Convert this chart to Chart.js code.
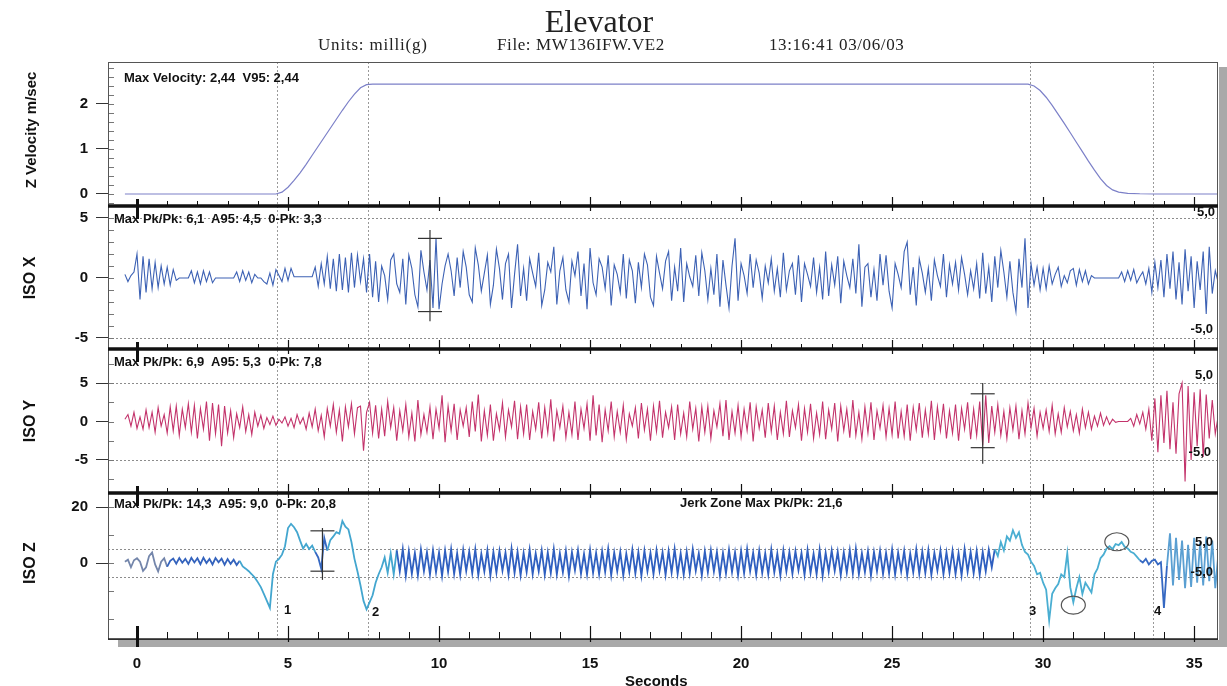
<!DOCTYPE html>
<html>
<head>
<meta charset="utf-8">
<title>Elevator</title>
<script src="https://cdn.jsdelivr.net/npm/chart.js@4.4.1/dist/chart.umd.min.js"></script>
<style>
  body { margin: 0; background: #fff; }
  #wrap { position: relative; width: 1227px; height: 686px; overflow: hidden; background: #fff; font-family: "Liberation Sans", Arial, sans-serif; }
  #plot { position: absolute; left: 0; top: 0; }
  .t { position: absolute; white-space: pre; color: #111; line-height: 1; }
  .serif { font-family: "Liberation Serif", "DejaVu Serif", serif; color: #222; }
  .note { font-weight: bold; font-size: 13px; }
  .ytitle { font-weight: bold; transform: translate(-50%, -50%) rotate(-90deg); }
</style>
</head>
<body>
<div id="wrap">
  <canvas id="plot" width="1227" height="686"></canvas>

  <div class="t serif" style="left:0;width:1198px;text-align:center;top:5px;font-size:32px;">Elevator</div>
  <div class="t serif" style="left:318px;top:36px;font-size:17px;letter-spacing:0.8px;">Units: milli(g)</div>
  <div class="t serif" style="left:497px;top:36px;font-size:17px;letter-spacing:0.6px;">File: MW136IFW.VE2</div>
  <div class="t serif" style="left:769px;top:36px;font-size:17px;letter-spacing:0.6px;">13:16:41 03/06/03</div>

  <div class="t ytitle" style="left:30px;top:130px;font-size:15px;">Z Velocity m/sec</div>
  <div class="t ytitle" style="left:30px;top:278px;font-size:16px;">ISO X</div>
  <div class="t ytitle" style="left:30px;top:421px;font-size:16px;">ISO Y</div>
  <div class="t ytitle" style="left:30px;top:563px;font-size:16px;">ISO Z</div>

  <div class="t note" style="left:124px;top:71px;">Max Velocity: 2,44  V95: 2,44</div>
  <div class="t note" style="left:114px;top:212px;">Max Pk/Pk: 6,1  A95: 4,5  0-Pk: 3,3</div>
  <div class="t note" style="left:114px;top:355px;">Max Pk/Pk: 6,9  A95: 5,3  0-Pk: 7,8</div>
  <div class="t note" style="left:114px;top:497px;">Max Pk/Pk: 14,3  A95: 9,0  0-Pk: 20,8</div>
  <div class="t note" style="left:680px;top:496px;">Jerk Zone Max Pk/Pk: 21,6</div>

  <div class="t note" style="right:12px;top:205px;">5,0</div>
  <div class="t note" style="right:14px;top:322px;">-5,0</div>
  <div class="t note" style="right:14px;top:368px;">5,0</div>
  <div class="t note" style="right:16px;top:445px;">-5,0</div>
  <div class="t note" style="right:14px;top:535px;">5,0</div>
  <div class="t note" style="right:14px;top:565px;">-5,0</div>

  <div class="t note" style="left:284px;top:603px;">1</div>
  <div class="t note" style="left:372px;top:605px;">2</div>
  <div class="t note" style="left:1029px;top:604px;">3</div>
  <div class="t note" style="left:1154px;top:604px;">4</div>

  <div class="t" style="left:625px;top:673px;font-size:15px;font-weight:bold;">Seconds</div>
</div>

<script>
// ---- data ----
const xTickValues = [0, 5, 10, 15, 20, 25, 30, 35];
const velTickValues = [0, 1, 2];
const isoXTickValues = [-5, 0, 5];
const isoYTickValues = [-5, 0, 5];
const isoZTickValues = [0, 20];

// velocity, m/sec
const velTimes = [-0.4, 4.6, 4.8, 5.0, 5.2, 5.4, 5.6, 5.8, 6.0, 6.2, 6.4, 6.6, 6.8, 7.0, 7.2, 7.4, 7.6, 7.8,
  29.5, 29.7, 29.9, 30.1, 30.3, 30.5, 30.7, 30.9, 31.1, 31.3, 31.5, 31.7, 31.9, 32.1, 32.3, 32.5, 32.8, 33.2, 33.7, 35.8];
const velValues = [0, 0, 0.04, 0.15, 0.3, 0.47, 0.66, 0.86, 1.06, 1.26, 1.46, 1.66, 1.86, 2.05, 2.22, 2.36, 2.43, 2.44,
  2.44, 2.4, 2.3, 2.15, 1.97, 1.77, 1.57, 1.36, 1.15, 0.94, 0.73, 0.53, 0.34, 0.19, 0.09, 0.04, 0.015, 0.005, 0, 0];

// acceleration channels, one sample per 0.1 s starting at -0.4 s
const SAMPLE_START = -0.4;
const SAMPLE_STEP = 0.1;

const isoX = [
  0.3, -0.3, 0.2, 0.5,
  2.0, -1.8, 1.8, -1.2, 1.6, -0.9, 1.3, -0.8, 1.0, -0.5,   // 0
  0.9, -0.6, 0.7, -0.2, 0, 0, 0, 0, 0.6, -0.4,              // 1
  0.5, -0.5, 0.6, -0.3, 0.5, -0.4, 0, 0, 0, 0,              // 2
  0, 0, 0, 0.5, -0.3, 0.6, -0.2, 0.5, -0.4, 0.3,            // 3
  0, 0, -0.3, -0.5, 0.4, -0.6, 0.7, 0.2, -0.3, 0.8,         // 4
  -0.2, 0.8, 0.1, 0.1, 0.1, 0.1, 0.1, 0.1, 0.1, 0.9,        // 5
  -0.7, 1.2, -0.5, 1.8, -0.9, 1.6, -1.1, 2.0, -1.0, 1.7,    // 6
  -1.2, 2.1, -0.8, 1.9, -0.3, 1.6, -1.2, 2.0, -1.6, 1.4,    // 7
  -2.0, 1.0, 0.2, -1.8, 1.5, 2.0, -0.5, -1.2, 1.6, -2.2,    // 8
  1.9, 0.8, -1.4, -2.4, 2.3, 0.5, -1.0, 1.5, -2.5, 3.3,     // 9
  -2.6, -0.5, 1.0, 2.0, 0.6, -1.5, 1.7, -0.8, 2.2, 0.9,     // 10
  -1.4, -2.0, 2.5, 1.1, -1.1, 0.4, 1.9, -2.2, -0.6, 2.4,    // 11
  0.8, -1.8, 1.2, 2.0, -2.5, 0.3, 2.8, -1.5, 0.8, -1.9,     // 12
  1.6, 0.4, -0.7, 2.1, -2.3, -1.0, 1.3, 0.5, 2.6, -2.2,     // 13
  0.6, 1.7, -1.0, -2.0, 1.4, 0.2, 2.2, -1.5, 1.2, -2.6,     // 14
  2.5, -0.4, -1.4, 1.6, 0.9, -0.9, 1.9, -2.3, 1.1, 0.3,     // 15
  -1.2, 2.0, -1.7, 1.5, 0.6, -2.1, 1.3, -0.8, 2.0, 1.1,     // 16
  -1.6, -2.3, 1.8, 0.4, -0.9, 1.4, 2.2, -1.9, 0.9, -1.1,    // 17
  2.5, -2.0, 1.2, 0.1, -0.7, 1.9, -1.5, 2.1, 0.6, -1.8,     // 18
  0.8, -1.4, 2.0, -2.4, 1.5, -0.6, -2.5, 1.0, 3.3, -1.9,    // 19
  1.2, 0.2, -1.3, 2.0, -0.8, 1.5, 0.4, -1.7, 1.0, -0.4,     // 20
  1.6, -1.1, 0.8, -1.6, 2.1, -1.0, 0.6, 1.2, -1.4, 1.9,     // 21
  -2.0, 1.2, 0.3, -0.7, 1.7, -1.2, 0.9, -1.8, 2.2, -1.5,    // 22
  1.1, -0.6, 1.8, -2.1, 1.4, 0.2, -0.8, 1.6, -1.3, 2.8,     // 23
  -2.4, 0.9, 1.2, -1.6, 0.7, -1.9, 2.0, -0.6, 1.9, -1.1,    // 24
  -2.5, 1.2, 0.3, -0.8, 2.2, 3.0, -1.4, 0.9, -2.3, 1.6,     // 25
  0.4, -1.2, 0.8, -1.9, 1.5, 0.2, -0.7, 2.0, -1.6, 1.1,     // 26
  -0.5, 1.3, -1.0, 1.7, 0.3, -1.4, 0.6, -0.9, 1.2, -1.7,    // 27
  2.1, -1.3, 0.9, -2.0, 1.8, -0.8, 2.3, 0.5, -1.6, 1.4,     // 28
  -1.2, -2.8, 1.6, -0.8, 3.3, -2.5, 1.2, -0.6, 0.9, -1.0,   // 29
  0.8, -0.9, 1.0, -0.5, 0.3, 0.9, -0.7, 0.2, -0.4, 0.6,     // 30
  0.8, -0.6, 0.7, -0.3, 0.6, -0.5, 0.2, 0, 0, 0,            // 31
  0, 0, 0, 0, 0, 0, 0.5, -0.3, 0.6, -0.2,                   // 32
  0.7, -0.4, 0.1, 0.5, -0.5, 0.8, -1.2, 1.3, -0.8, 1.5,     // 33
  -1.6, 2.0, -0.9, 2.2, -1.8, 1.3, -2.2, 2.4, -1.1, 1.8,    // 34
  -2.5, 1.4, -1.0, 2.2, -3.0, 2.6, -1.3, 0.6, -0.4          // 35
];

const isoY = [
  0.3, 0.9, -0.6, 1.2,
  -0.9, 0.6, -1.0, 1.5, -0.8, 1.2, -1.4, 1.8, -0.6, 0.9,    // 0
  -1.5, 1.9, -1.2, 2.0, -1.8, 1.6, -0.8, 2.3, -1.4, 2.1,    // 1
  -2.2, 1.7, -1.0, 2.6, -2.5, 2.4, -1.6, 2.2, -3.2, 2.0,    // 2
  -1.5, 1.4, -2.1, 1.0, -0.8, 1.9, -1.3, 0.9, -1.7, 1.2,    // 3
  -0.6, 0.8, -0.9, 0.5, -0.4, 0.7, -0.5, 0.3, -0.2, 0.6,    // 4
  -0.6, 0.4, -0.8, 0.9, -0.3, 0.5, -1.0, 1.1, -0.7, 1.6,    // 5
  -1.2, 0.8, -2.0, 1.7, -0.6, 2.2, -1.4, 1.5, -2.6, 1.9,    // 6
  -0.7, 2.3, -1.6, 1.8, 2.0, -3.8, 1.2, 2.5, -1.5, 2.1,     // 7
  -2.2, 1.6, -1.9, 2.6, -0.8, 1.8, -2.5, 1.4, -1.2, 2.2,    // 8
  -2.0, 1.1, -2.6, 2.8, -1.7, 0.9, -1.4, 1.9, -2.3, 1.6,    // 9
  -0.9, 3.4, -2.7, 2.0, -1.2, 2.3, -2.4, 1.5, -0.6, 1.8,    // 10
  -2.0, 2.6, -1.3, 3.5, -2.6, 1.4, -1.8, 2.2, -2.5, 1.0,    // 11
  -1.1, 2.4, -2.0, 1.5, -0.7, 2.7, -2.3, 1.9, -1.6, 2.2,    // 12
  -2.4, 1.3, -1.0, 2.5, -2.2, 1.8, -1.5, 2.9, -2.6, 1.4,    // 13
  -0.8, 2.0, -2.1, 1.2, -1.7, 2.6, -2.4, 1.6, -0.9, 2.3,    // 14
  -2.5, 3.4, -1.8, 2.2, -2.7, 1.5, -1.2, 2.6, -2.0, 1.3,    // 15
  -1.4, 2.1, -2.3, 1.0, -0.6, 1.8, -2.2, 2.4, -1.1, 1.6,    // 16
  -2.5, 2.0, -1.3, 2.7, -2.1, 1.2, -0.8, 1.9, -2.4, 2.2,    // 17
  -1.6, 1.1, -2.0, 2.6, -1.0, 1.7, -2.6, 1.9, -1.4, 2.0,    // 18
  -2.2, 1.4, -0.7, 2.3, -1.9, 2.8, -2.4, 1.3, -1.5, 2.1,    // 19
  -2.0, 1.6, -1.2, 2.5, -2.6, 1.9, -0.9, 1.5, -2.1, 2.4,    // 20
  -1.3, 2.0, -2.4, 1.2, -1.6, 2.7, -2.0, 1.4, -0.8, 2.2,    // 21
  -2.5, 1.7, -1.4, 2.3, -2.2, 1.1, -1.7, 2.6, -2.3, 1.5,    // 22
  -1.0, 2.4, -2.6, 2.0, -1.2, 1.6, -2.1, 2.8, -1.8, 1.2,    // 23
  -2.3, 1.9, -1.5, 2.5, -2.4, 1.4, -0.9, 2.1, -2.0, 1.7,    // 24
  -1.7, 2.6, -2.2, 1.3, -1.9, 2.2, -2.5, 1.8, -1.1, 2.4,    // 25
  -2.1, 1.5, -1.6, 2.7, -2.4, 1.9, -1.2, 2.3, -2.2, 1.4,    // 26
  -1.5, 2.2, -2.5, 1.7, -1.0, 2.5, -2.3, 1.6, -1.8, 2.6,    // 27
  -3.1, 3.4, -2.8, 2.0, -1.4, 2.2, -1.8, 1.3, -2.2, 1.8,    // 28
  -1.1, 2.0, -2.3, 1.4, -1.6, 2.4, -0.8, 1.7, -1.9, 1.2,    // 29
  -0.9, 1.5, -1.3, 2.1, -1.6, 1.0, -1.4, 1.8, -0.7, 1.3,    // 30
  -1.2, 0.9, -1.5, 1.6, -0.8, 1.2, -1.0, 0.7, -0.6, 1.1,    // 31
  -0.5, 0.6, -0.4, 0.3, -0.1, 0, 0, 0, 0, 0.4,              // 32
  -0.6, 0.9, -0.3, 1.2, -1.0, 1.6, -2.5, 3.0, -4.0, 3.4,    // 33
  -2.8, 4.0, -3.6, 2.5, -4.2, 3.6, 5.0, -7.8, 4.6, -5.0,    // 34
  3.8, -3.2, 4.2, -4.6, 3.5, -2.2, 2.8, -1.6, 0.8           // 35
];

const isoZ = [
  0.5, 1.2, -1.5, 1.0,
  1.7, 0.5, -2.8, -1.5, 2.5, 3.8, -0.5, -3.0, 0.5, 1.7,      // 0
  -1.3, 0.8, 1.6, -0.2, 1.8, 0.1, 1.5, -0.3, 1.9, 0.2,       // 1
  1.7, -0.4, 1.9, 0.0, 1.5, -0.5, 1.8, 0.3, 1.6, -0.6,       // 2
  1.4, -0.3, 1.2, -0.7, 0.8, -1.2, -2.0, -2.9, -4.0, -5.2,   // 3
  -6.8, -8.6, -11.0, -13.5, -16.0, -4.0, 0.5, 1.5, 3.0, 6.0, // 4
  12.5, 14.0, 12.8, 11.0, 8.0, 5.2, 6.8, 5.0, 6.2, 4.0,      // 5
  2.0, -2.0, 9.0, 4.5, 8.2, 9.5, 11.0, 10.5, 15.0, 13.0,     // 6
  12.0, 7.5, 1.5, -3.0, -8.0, -13.5, -16.5, -14.0, -11.5, -7.0, // 7
  -4.0, -1.5, 2.0, -3.5, 3.5, -4.0, 4.5, -3.0, 5.0, -4.5,    // 8
  4.2, -3.8, 3.6, -4.4, 4.8, -2.9, 3.9, -4.1, 4.5, -3.3,     // 9
  3.8, -4.6, 4.4, -3.1, 5.0, -3.9, 3.5, -4.2, 4.7, -2.8,     // 10
  4.1, -3.6, 4.9, -4.3, 3.3, -3.0, 4.6, -4.5, 3.9, -3.4,     // 11
  4.4, -2.7, 3.7, -4.1, 5.2, -3.5, 4.0, -4.4, 3.6, -3.2,     // 12
  4.8, -3.9, 3.4, -2.9, 4.5, -4.2, 3.8, -3.6, 5.0, -4.0,     // 13
  3.5, -3.3, 4.3, -4.6, 3.9, -2.6, 4.6, -3.8, 3.2, -4.1,     // 14
  4.7, -3.5, 3.6, -4.0, 4.2, -3.1, 5.1, -4.3, 3.7, -2.9,     // 15
  4.0, -4.4, 3.3, -3.2, 4.8, -3.7, 3.9, -4.5, 4.4, -3.0,     // 16
  3.6, -3.9, 4.6, -2.8, 3.8, -4.2, 4.3, -3.4, 5.0, -3.8,     // 17
  3.4, -4.1, 4.1, -3.6, 4.9, -2.7, 3.5, -4.4, 4.2, -3.3,     // 18
  4.6, -3.0, 3.9, -4.5, 3.6, -3.7, 4.7, -3.2, 3.8, -4.3,     // 19
  4.3, -3.6, 5.0, -2.9, 3.7, -4.1, 4.4, -3.5, 3.5, -4.0,     // 20
  4.9, -3.3, 3.4, -4.4, 4.5, -3.0, 3.9, -3.8, 4.2, -2.6,     // 21
  3.6, -4.2, 4.7, -3.5, 3.3, -3.9, 4.8, -4.6, 3.7, -3.1,     // 22
  4.5, -2.8, 4.0, -4.3, 3.8, -3.4, 4.6, -3.7, 5.1, -4.0,     // 23
  3.5, -3.2, 4.2, -4.5, 3.9, -2.9, 4.4, -3.9, 3.6, -3.6,     // 24
  4.8, -4.1, 3.7, -3.0, 4.3, -4.4, 3.4, -3.3, 4.9, -3.8,     // 25
  4.1, -3.5, 4.6, -4.2, 3.6, -2.7, 4.5, -4.0, 3.8, -3.4,     // 26
  4.4, -3.9, 3.5, -4.4, 5.0, -3.1, 4.0, -3.6, 4.3, -4.2,     // 27
  3.9, -3.0, 4.7, -1.5, 5.0, 2.5, 7.5, 4.5, 9.5, 8.0,        // 28
  11.7, 9.0, 11.0, 6.5, 4.0, 3.0, 0.5, -1.0, -4.0, -3.5,     // 29
  -7.0, -9.5, -20.5, -11.0, -9.0, -7.5, -4.0, -5.0, 3.5, -8.7, // 30
  -14.0, -9.0, -5.0, -11.0, -7.0, -8.7, -10.5, -4.0, -2.0, 1.7, // 31
  3.0, 5.2, 6.0, 5.0, 6.8, 6.4, 7.5, 5.8, 5.2, 4.0,          // 32
  3.5, 2.3, 1.0, 0.2, 1.5, -0.5, 0.8, 1.2, -0.5, 0.3,        // 33
  -16.0, -1.0, 10.6, -8.0, 9.0, -6.0, 8.0, -9.0, 6.5, -8.5,  // 34
  9.0, -7.0, 7.5, -8.0, 9.5, -6.5, 8.0, -9.0, 3.0            // 35
];

// event markers and highlights
const eventTimes = [4.63, 7.65, 29.55, 33.65];
const guideLevels = [-5, 5];
const crossMarks = [
  { axis: 'yX', t: 9.7, hi: 3.3, lo: -2.8, top: 4.0, bottom: -3.6 },
  { axis: 'yY', t: 28.0, hi: 3.6, lo: -3.4, top: 5.0, bottom: -5.5 },
  { axis: 'yZ', t: 6.14, hi: 11.5, lo: -2.9, top: 12.5, bottom: -6 }
];
const circleMarks = [
  { axis: 'yZ', t: 32.44, v: 7.6 },
  { axis: 'yZ', t: 31.0, v: -15 }
];

// colour zones for the ISO Z trace (jerk zones lighter)
const zZones = [
  [-1, 1.0, '#7486ab'],
  [1.0, 3.4, '#3463bd'],
  [3.4, 5.9, '#43a6cf'],
  [5.9, 6.3, '#3568c2'],
  [6.3, 8.6, '#43a6cf'],
  [8.6, 28.4, '#2f5fc0'],
  [28.4, 33.2, '#4aaed2'],
  [33.2, 34.1, '#3568c2'],
  [34.1, 40, '#5a9fd2']
];

function zColor(t) {
  for (const [a, b, c] of zZones) {
    if (t >= a && t < b) return c;
  }
  return '#2f5fc0';
}

const toPoints = vals => vals.map((v, i) => ({ x: +(SAMPLE_START + i * SAMPLE_STEP).toFixed(2), y: v }));
const velPoints = velTimes.map((t, i) => ({ x: t, y: velValues[i] }));

function hline(ctx, x1, y1, x2, y2) {
  ctx.beginPath();
  ctx.moveTo(x1, y1);
  ctx.lineTo(x2, y2);
  ctx.stroke();
}

const minorSteps = { yVel: 0.2, yX: 1, yY: 2.5, yZ: 10 };

const panelDecor = {
  id: 'panelDecor',
  beforeDraw(chart) {
    const { ctx, chartArea: ca } = chart;
    ctx.save();
    ctx.fillStyle = '#a9a9a9';
    ctx.fillRect(ca.right + 1, ca.top + 5, 8, ca.bottom - ca.top + 3);
    ctx.fillRect(ca.left + 10, ca.bottom + 1, ca.right - ca.left, 7);
    ctx.restore();
  },
  beforeDatasetsDraw(chart) {
    const { ctx, chartArea: ca, scales } = chart;
    ctx.save();
    ctx.lineWidth = 1;
    ctx.setLineDash([2, 2]);
    ctx.strokeStyle = '#8c8c8c';
    ['yX', 'yY', 'yZ'].forEach(id => {
      guideLevels.forEach(v => {
        const py = Math.round(scales[id].getPixelForValue(v)) + 0.5;
        hline(ctx, ca.left, py, ca.right, py);
      });
    });
    ctx.strokeStyle = '#999';
    eventTimes.forEach(t => {
      const px = Math.round(scales.x.getPixelForValue(t)) + 0.5;
      hline(ctx, px, ca.top, px, ca.bottom);
    });
    ctx.setLineDash([]);
    // small inner ticks on the left edge
    ctx.strokeStyle = '#777';
    Object.keys(minorSteps).forEach(id => {
      const s = scales[id];
      const step = minorSteps[id];
      for (let k = Math.ceil(s.min / step); k * step <= s.max; k++) {
        const py = Math.round(s.getPixelForValue(k * step)) + 0.5;
        if (py < s.top + 2 || py > s.bottom - 2) continue;
        hline(ctx, ca.left, py, ca.left + 6, py);
      }
    });
    ctx.restore();
  },
  afterDatasetsDraw(chart) {
    const { ctx, chartArea: ca, scales } = chart;
    const xs = scales.x;
    ctx.save();
    // frame
    ctx.strokeStyle = '#555';
    ctx.lineWidth = 1;
    ctx.strokeRect(ca.left + 0.5, ca.top + 0.5, ca.right - ca.left - 1, ca.bottom - ca.top);

    // time ticks along every panel bottom
    const drawTimeTicks = (y, minorUp, majorUp, majorDown, zeroUp, zeroDown) => {
      ctx.strokeStyle = '#111';
      for (let s = 0; s <= 35; s++) {
        const px = Math.round(xs.getPixelForValue(s)) + 0.5;
        if (s === 0) {
          ctx.lineWidth = 3;
          hline(ctx, px, y - zeroUp, px, y + zeroDown);
        } else if (s % 5 === 0) {
          ctx.lineWidth = 1.2;
          hline(ctx, px, y - majorUp, px, y + majorDown);
        } else {
          ctx.lineWidth = 1;
          hline(ctx, px, y - minorUp, px, y);
        }
      }
    };
    ['yVel', 'yX', 'yY'].forEach(id => {
      const y = scales[id].bottom;
      ctx.strokeStyle = '#111';
      ctx.lineWidth = 3.5;
      hline(ctx, ca.left, y, ca.right, y);
      drawTimeTicks(y, 5, 9, 5, 7, 13);
    });
    ctx.strokeStyle = '#222';
    ctx.lineWidth = 1.5;
    hline(ctx, ca.left, ca.bottom, ca.right, ca.bottom);
    drawTimeTicks(ca.bottom, 7, 13, 3, 13, 8);

    // cross markers
    ctx.strokeStyle = '#333';
    ctx.lineWidth = 1.2;
    crossMarks.forEach(m => {
      const s = scales[m.axis];
      const px = xs.getPixelForValue(m.t);
      hline(ctx, px, s.getPixelForValue(m.top), px, s.getPixelForValue(m.bottom));
      [m.hi, m.lo].forEach(v => {
        const py = s.getPixelForValue(v);
        hline(ctx, px - 12, py, px + 12, py);
      });
    });

    // circled spots
    ctx.strokeStyle = '#555';
    ctx.lineWidth = 1.2;
    circleMarks.forEach(m => {
      const px = xs.getPixelForValue(m.t);
      const py = scales[m.axis].getPixelForValue(m.v);
      ctx.beginPath();
      ctx.ellipse(px, py, 12, 9, 0, 0, Math.PI * 2);
      ctx.stroke();
    });
    ctx.restore();
  }
};

const tickFont = { family: '"Liberation Sans", Arial, sans-serif', size: 15, weight: 'bold' };

function yAxis(ticks, min, max, weight) {
  return {
    type: 'linear',
    position: 'left',
    stack: 'panels',
    stackWeight: weight,
    min: min,
    max: max,
    afterFit: s => { s.width = 108; },
    afterBuildTicks: s => { s.ticks = ticks.map(v => ({ value: v })); },
    grid: { drawOnChartArea: false, tickLength: 12, tickColor: '#333', tickWidth: 1 },
    border: { display: false },
    ticks: { color: '#111', font: tickFont, padding: 8, callback: v => String(v) }
  };
}

new Chart(document.getElementById('plot'), {
  type: 'line',
  data: {
    datasets: [
      { label: 'Z Velocity', data: velPoints, yAxisID: 'yVel', borderColor: '#7c80c8', borderWidth: 1.2 },
      { label: 'ISO X', data: toPoints(isoX), yAxisID: 'yX', borderColor: '#3c61b4', borderWidth: 1.1 },
      { label: 'ISO Y', data: toPoints(isoY), yAxisID: 'yY', borderColor: '#c3336b', borderWidth: 1.1 },
      { label: 'ISO Z', data: toPoints(isoZ), yAxisID: 'yZ', borderColor: '#2f5fc0', borderWidth: 1.8,
        segment: { borderColor: c => zColor(c.p0.parsed.x) } }
    ]
  },
  options: {
    responsive: false,
    animation: false,
    events: [],
    elements: { point: { radius: 0 }, line: { tension: 0 } },
    layout: { padding: { top: 62, right: 9, left: 0, bottom: 0 } },
    plugins: { legend: { display: false }, tooltip: { enabled: false } },
    scales: {
      x: {
        type: 'linear',
        min: -0.96,
        max: 35.79,
        afterFit: s => { s.height = 47; },
        afterBuildTicks: s => { s.ticks = xTickValues.map(v => ({ value: v })); },
        grid: { display: false, drawTicks: false },
        border: { display: false },
        ticks: { color: '#111', font: tickFont, padding: 16, maxRotation: 0, callback: v => String(v) }
      },
      // last defined axis sits on top of the stack
      yZ: yAxis(isoZTickValues, -27.1, 25, 146),
      yY: yAxis(isoYTickValues, -9.29, 9.42, 144),
      yX: yAxis(isoXTickValues, -5.92, 6.0, 143),
      yVel: yAxis(velTickValues, -0.267, 2.933, 144)
    }
  },
  plugins: [panelDecor]
});
</script>
</body>
</html>
